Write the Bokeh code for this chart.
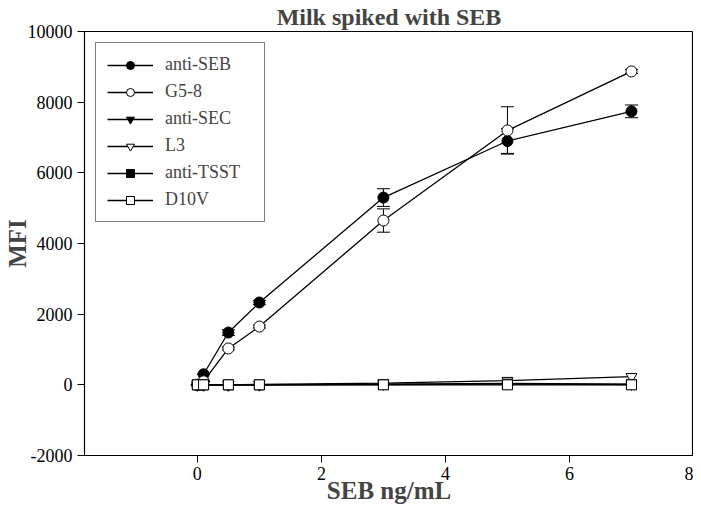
from bokeh.plotting import figure
from bokeh.models import ColumnDataSource, Whisker, TeeHead, Legend, LegendItem, FixedTicker
from bokeh.embed import file_html
from bokeh.resources import INLINE

x = [0, 0.1, 0.5, 1, 3, 5, 7]
anti_seb = [0, 300, 1480, 2330, 5300, 6900, 7740]
anti_seb_err = [0, 0, 80, 60, 250, 350, 180]
g58 = [0, 100, 1030, 1650, 4650, 7200, 8870]
g58_err = [0, 0, 40, 40, 330, 670, 60]
anti_sec = [0, 0, 0, 0, 20, 40, 20]
l3 = [0, 0, 0, 10, 50, 120, 230]
anti_tsst = [0, 0, 0, 0, 10, 20, 10]
d10v = [0, 0, 0, 0, 0, 0, 0]
xticks = [0, 2, 4, 6, 8]
yticks = [-2000, 0, 2000, 4000, 6000, 8000, 10000]

FONT = "Liberation Serif"

p = figure(width=693, height=506, x_range=(-1.82, 8), y_range=(-2000, 10000),
           output_backend="svg", toolbar_location=None,
           min_border_left=60, min_border_right=0, min_border_top=25, min_border_bottom=40)
p.grid.visible = False
p.outline_line_color = "black"
p.outline_line_width = 1.2
p.background_fill_color = "white"
p.border_fill_color = "white"

p.title.text = "Milk spiked with SEB"
p.title.align = "center"
p.title.text_font = FONT
p.title.text_font_size = "24px"
p.title.text_font_style = "bold"
p.title.offset = 0
p.title.standoff = 3

p.xaxis.ticker = FixedTicker(ticks=xticks)
p.yaxis.ticker = FixedTicker(ticks=yticks)
p.yaxis.major_label_overrides = {t: str(t) for t in yticks}
p.xaxis.major_label_overrides = {t: str(t) for t in xticks}
for ax in (p.xaxis[0], p.yaxis[0]):
    ax.major_tick_in = 0
    ax.major_tick_out = 7
    ax.minor_tick_line_color = None
    ax.major_label_text_font = FONT
    ax.major_label_text_font_size = "18px"
    ax.major_label_text_color = "black"
    ax.axis_label_text_font = FONT
    ax.axis_label_text_font_style = "bold"
    ax.axis_label_text_font_size = "25px"
    ax.axis_line_color = "black"
    ax.major_tick_line_color = "black"
p.xaxis.axis_label = "SEB ng/mL"
p.yaxis.axis_label = "MFI"
p.xaxis.major_label_standoff = 4
p.yaxis.major_label_standoff = 5
p.xaxis.axis_label_standoff = -6
p.yaxis.axis_label_standoff = -6

src_seb = ColumnDataSource(dict(x=x, y=anti_seb, lo=[a - e for a, e in zip(anti_seb, anti_seb_err)],
                                hi=[a + e for a, e in zip(anti_seb, anti_seb_err)]))
src_g = ColumnDataSource(dict(x=x, y=g58, lo=[a - e for a, e in zip(g58, g58_err)],
                              hi=[a + e for a, e in zip(g58, g58_err)]))

for src in (src_seb, src_g):
    w = Whisker(source=src, base="x", lower="lo", upper="hi", line_color="black", line_width=1,
                upper_head=TeeHead(size=13, line_color="black"),
                lower_head=TeeHead(size=13, line_color="black"))
    p.add_layout(w)

series = [
    ("anti-SEB", anti_seb, "circle", "black", 11),
    ("G5-8", g58, "circle", "white", 11),
    ("anti-SEC", anti_sec, "inverted_triangle", "black", 11),
    ("L3", l3, "inverted_triangle", "white", 11),
    ("anti-TSST", anti_tsst, "square", "black", 10),
    ("D10V", d10v, "square", "white", 10),
]
items = []
for name, ys, mk, fill, sz in series:
    r1 = p.line(x, ys, line_color="black", line_width=1.3)
    r2 = p.scatter(x, ys, marker=mk, size=sz, fill_color=fill, line_color="black", line_width=1)
    items.append(LegendItem(label=name, renderers=[r1, r2]))

leg = Legend(items=items, location="top_left")
leg.margin = 11
leg.label_text_font = FONT
leg.label_text_font_size = "18px"
leg.glyph_width = 46
leg.glyph_height = 20
leg.label_width = 88
leg.spacing = 6
leg.padding = 11
leg.label_standoff = 12
leg.border_line_color = "black"
leg.border_line_width = 1
p.add_layout(leg, "center")

open("out.html", "w").write(file_html(p, INLINE))
